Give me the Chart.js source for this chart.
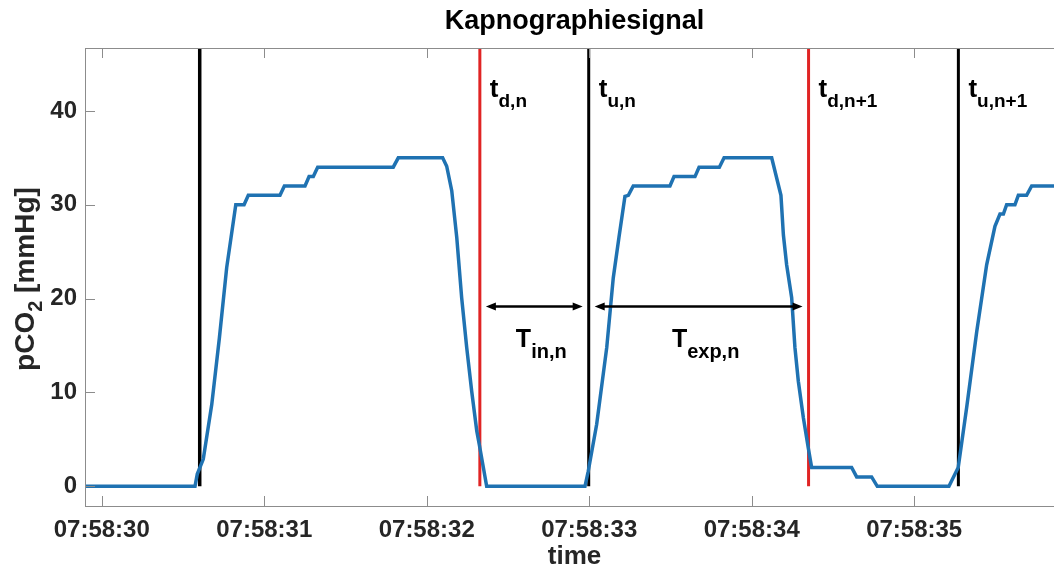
<!DOCTYPE html>
<html>
<head>
<meta charset="utf-8">
<title>Kapnographiesignal</title>
<script src="https://cdn.jsdelivr.net/npm/chart.js@4"></script>
<style>
  html, body { margin: 0; padding: 0; background: #fff; overflow: hidden; }
  #wrap { position: relative; width: 1066px; height: 568px; }
</style>
</head>
<body>
<div id="wrap"><canvas id="kapno"></canvas></div>
<script>
// time in seconds after 07:58:00
const timeSec = [29.897, 30.574, 30.588, 30.625, 30.677, 30.724, 30.769, 30.825, 30.876, 30.902,
  31.097, 31.124, 31.251, 31.276, 31.302, 31.329, 31.794, 31.825, 32.098, 32.123,
  32.154, 32.185, 32.215, 32.246, 32.277, 32.308, 32.324, 32.369, 32.974, 32.994,
  33.046, 33.108, 33.148, 33.183, 33.220, 33.241, 33.271, 33.497, 33.522, 33.651,
  33.676, 33.801, 33.830, 34.123, 34.180, 34.195, 34.215, 34.246, 34.266, 34.287,
  34.318, 34.348, 34.369, 34.615, 34.646, 34.738, 34.773, 35.214, 35.271, 35.323,
  35.385, 35.446, 35.497, 35.528, 35.549, 35.569, 35.620, 35.641, 35.692, 35.723, 35.922];
const pco2 = [0, 0, 1.3, 2.9, 8.7, 15.8, 23.3, 30, 30, 31,
  31, 32, 32, 33, 33, 34, 34, 35, 35, 34.1,
  31.5, 26.5, 20.1, 14.8, 10.1, 5.9, 4.4, 0, 0, 1.6,
  6.6, 14.8, 22.2, 26.5, 30.9, 31, 32, 32, 33, 33,
  34, 34, 35, 35, 31, 26.8, 23.6, 20.1, 14.8, 11.2,
  7.3, 4.1, 2, 2, 1, 1, 0, 0, 2, 8.4,
  16.5, 23.6, 27.7, 29, 29, 30, 30, 31, 31, 32, 32];

// detected breath events
const riseTimes = [30.603, 32.997, 35.272];   // t_u (black)
const fallTimes = [32.327, 34.350];           // t_d (red)

const markerTimes = [32.327, 32.997, 34.350, 35.272];
const markerSubs = ['d,n', 'u,n', 'd,n+1', 'u,n+1'];
const markerY = 41.5;

const intervalFrom = [32.327, 32.997];
const intervalTo = [32.997, 34.350];
const intervalSubs = ['in,n', 'exp,n'];
const arrowY = 19.2;
const intervalLabelY = 14.8;

const xTickValues = [30, 31, 32, 33, 34, 35];
const xTickLabels = ['07:58:30', '07:58:31', '07:58:32', '07:58:33', '07:58:34', '07:58:35'];
const yTickValues = [0, 10, 20, 30, 40];

const xMin = 29.897, xMax = 35.922;
const yMin = -2.1, yMax = 46.7;

const FONT = '"Liberation Sans", Arial, Helvetica, sans-serif';
const TEXT = '#262626';
const AXIS = '#8c8c8c';
const BLUE = '#1f72b2';
const RED = '#e02424';

function vline(t, color, width) {
  return {
    data: [{ x: t, y: 0 }, { x: t, y: yMax }],
    borderColor: color,
    borderWidth: width,
    pointRadius: 0,
    borderCapStyle: 'butt'
  };
}

// draws a row of text pieces, some of them lowered (subscripts)
function drawRuns(ctx, x, y, runs, align) {
  let total = 0;
  runs.forEach(r => {
    ctx.font = `bold ${r.size}px ${FONT}`;
    r.w = ctx.measureText(r.t).width;
    total += r.w;
  });
  let cx = align === 'center' ? x - total / 2 : x;
  ctx.textAlign = 'left';
  ctx.textBaseline = 'alphabetic';
  runs.forEach(r => {
    ctx.font = `bold ${r.size}px ${FONT}`;
    ctx.fillText(r.t, cx, y + (r.dy || 0));
    cx += r.w;
  });
}

function arrowHead(ctx, x, y, dir) {
  ctx.beginPath();
  ctx.moveTo(x, y);
  ctx.lineTo(x - dir * 10, y - 4);
  ctx.lineTo(x - dir * 10, y + 4);
  ctx.closePath();
  ctx.fill();
}

const decor = {
  id: 'decor',
  afterDatasetsDraw(chart) {
    const ctx = chart.ctx;
    const xs = chart.scales.x, ys = chart.scales.y;
    ctx.save();
    ctx.fillStyle = '#000';
    ctx.strokeStyle = '#000';

    // event labels
    markerTimes.forEach((t, i) => {
      drawRuns(ctx, xs.getPixelForValue(t) + 10, ys.getPixelForValue(markerY), [
        { t: 't', size: 26 },
        { t: markerSubs[i], size: 19, dy: 10 }
      ]);
    });

    // interval arrows
    const ay = Math.round(ys.getPixelForValue(arrowY)) + 0.5;
    intervalFrom.forEach((t, i) => {
      const x1 = xs.getPixelForValue(t) + 6;
      const x2 = xs.getPixelForValue(intervalTo[i]) - 6;
      ctx.lineWidth = 2.5;
      ctx.beginPath();
      ctx.moveTo(x1 + 4, ay);
      ctx.lineTo(x2 - 4, ay);
      ctx.stroke();
      arrowHead(ctx, x1, ay, -1);
      arrowHead(ctx, x2, ay, 1);
      drawRuns(ctx, (x1 + x2) / 2 + 7, ys.getPixelForValue(intervalLabelY), [
        { t: 'T', size: 25 },
        { t: intervalSubs[i], size: 20, dy: 11 }
      ], 'center');
    });
    ctx.restore();
  },
  afterDraw(chart) {
    const ctx = chart.ctx;
    const a = chart.chartArea;
    const xs = chart.scales.x, ys = chart.scales.y;
    ctx.save();

    // box
    ctx.strokeStyle = AXIS;
    ctx.lineWidth = 1;
    ctx.strokeRect(Math.round(a.left) + 0.5, Math.round(a.top) + 0.5,
      Math.round(a.right - a.left), Math.round(a.bottom - a.top));

    // inward ticks on all sides
    ctx.beginPath();
    xTickValues.forEach(v => {
      const px = Math.round(xs.getPixelForValue(v)) + 0.5;
      ctx.moveTo(px, a.bottom); ctx.lineTo(px, a.bottom - 10);
      ctx.moveTo(px, a.top); ctx.lineTo(px, a.top + 10);
    });
    yTickValues.forEach(v => {
      const py = Math.round(ys.getPixelForValue(v)) + 0.5;
      ctx.moveTo(a.left, py); ctx.lineTo(a.left + 10, py);
      ctx.moveTo(a.right, py); ctx.lineTo(a.right - 10, py);
    });
    ctx.stroke();

    ctx.fillStyle = '#000';
    const cx = (a.left + a.right) / 2;
    drawRuns(ctx, cx, 29, [{ t: 'Kapnographiesignal', size: 27 }], 'center');

    ctx.fillStyle = TEXT;
    drawRuns(ctx, cx, 564, [{ t: 'time', size: 26 }], 'center');

    ctx.translate(34, 279);
    ctx.rotate(-Math.PI / 2);
    drawRuns(ctx, 0, 0, [
      { t: 'pCO', size: 28 },
      { t: '2', size: 20, dy: 8 },
      { t: ' [mmHg]', size: 28 }
    ], 'center');
    ctx.restore();
  }
};

const ctx = document.getElementById('kapno').getContext('2d');

new Chart(ctx, {
  type: 'line',
  data: {
    datasets: [
      {
        data: timeSec.map((t, i) => ({ x: t, y: pco2[i] })),
        borderColor: BLUE,
        borderWidth: 3.5,
        pointRadius: 0,
        tension: 0
      },
      vline(riseTimes[0], '#000', 3.5),
      vline(riseTimes[1], '#000', 3),
      vline(riseTimes[2], '#000', 3),
      vline(fallTimes[0], RED, 3),
      vline(fallTimes[1], RED, 3)
    ]
  },
  options: {
    responsive: true,
    maintainAspectRatio: false,
    animation: false,
    devicePixelRatio: 1,
    layout: { padding: { top: 48, right: 2, bottom: 0, left: 0 } },
    plugins: {
      legend: { display: false },
      tooltip: { enabled: false },
      title: { display: false }
    },
    scales: {
      x: {
        type: 'linear',
        min: xMin,
        max: xMax,
        grid: { display: false, drawTicks: false },
        border: { display: false },
        afterBuildTicks: s => { s.ticks = xTickValues.map(v => ({ value: v })); },
        afterFit: s => { s.height = 62; },
        ticks: {
          autoSkip: false,
          maxRotation: 0,
          padding: 10,
          color: TEXT,
          font: { family: FONT, size: 24, weight: 'bold' },
          callback: v => xTickLabels[xTickValues.indexOf(v)]
        }
      },
      y: {
        min: yMin,
        max: yMax,
        grid: { display: false, drawTicks: false },
        border: { display: false },
        afterBuildTicks: s => { s.ticks = yTickValues.map(v => ({ value: v })); },
        afterFit: s => { s.width = 85; },
        ticks: {
          padding: 8,
          color: TEXT,
          font: { family: FONT, size: 24, weight: 'bold' }
        }
      }
    }
  },
  plugins: [decor]
});
</script>
</body>
</html>
